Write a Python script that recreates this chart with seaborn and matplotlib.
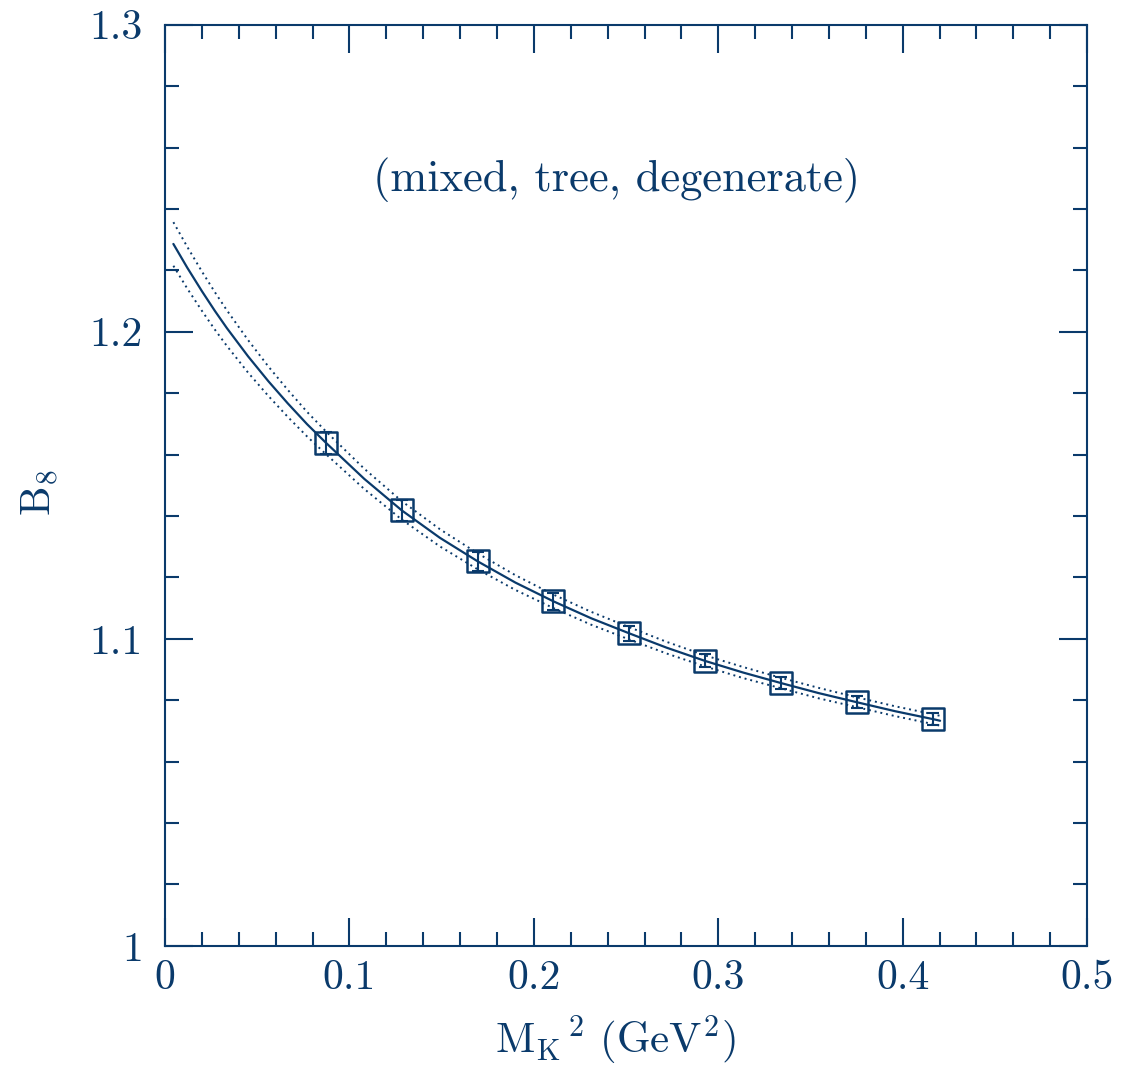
import numpy as np
import pandas as pd
import matplotlib
matplotlib.use("Agg")
import matplotlib.pyplot as plt
import seaborn as sns

# data points (M_K^2, B_8, error)
mk2 = [0.0873, 0.1284, 0.1696, 0.2106, 0.2516, 0.2928, 0.3339, 0.3754, 0.4167]
b8 = [1.1638, 1.1418, 1.1252, 1.1122, 1.1018, 1.0928, 1.0856, 1.0793, 1.0738]
b8_err = [0.0037, 0.0033, 0.0030, 0.0028, 0.0024, 0.0021, 0.0021, 0.0020, 0.0020]

# fit curve
fit_x = [0.0045, 0.012, 0.020, 0.027, 0.0335, 0.045, 0.056, 0.0665, 0.077, 0.0873,
         0.108, 0.1284, 0.149, 0.1696, 0.190, 0.2106, 0.231, 0.2516, 0.272, 0.2928,
         0.3135, 0.3339, 0.3545, 0.3754, 0.396, 0.4167, 0.4203]
fit_y = [1.2286, 1.2209, 1.2132, 1.2068, 1.2012, 1.1920, 1.1839, 1.1767, 1.1699, 1.1638,
         1.1521, 1.1418, 1.1329, 1.1252, 1.1183, 1.1122, 1.1067, 1.1018, 1.0971, 1.0928,
         1.0890, 1.0856, 1.0823, 1.0793, 1.0764, 1.0738, 1.0733]
fit_hw = [0.0071, 0.0068, 0.0064, 0.0061, 0.0058, 0.0053, 0.0048, 0.0044, 0.0040, 0.0037,
          0.0033, 0.0030, 0.0028, 0.0026, 0.0024, 0.0022, 0.0021, 0.0020, 0.0019, 0.0018,
          0.0018, 0.0017, 0.0017, 0.0016, 0.0016, 0.0016, 0.0016]

xticks = [0, 0.1, 0.2, 0.3, 0.4, 0.5]
xticklabels = ['0', '0.1', '0.2', '0.3', '0.4', '0.5']
yticks = [1.0, 1.1, 1.2, 1.3]
yticklabels = ['1', '1.1', '1.2', '1.3']

col = '#0a3a6b'

fit = pd.DataFrame({'x': fit_x, 'y': fit_y, 'hw': fit_hw})
fit['up'] = fit['y'] + fit['hw']
fit['lo'] = fit['y'] - fit['hw']
pts = pd.DataFrame({'x': mk2, 'y': b8, 'err': b8_err})

sns.set_theme(style='ticks')
plt.rcParams['font.family'] = ['cmr10', 'DejaVu Serif']
plt.rcParams['mathtext.fontset'] = 'cm'
plt.rcParams['axes.formatter.use_mathtext'] = True

fig = plt.figure(figsize=(11.23, 10.76), dpi=100)
ax = fig.add_axes([0.147, 0.121, 0.821, 0.856])

sns.lineplot(data=fit, x='x', y='y', ax=ax, color=col, lw=1.6, sort=False)
sns.lineplot(data=fit, x='x', y='up', ax=ax, color=col, lw=1.4,
             linestyle=(0, (1, 2)), sort=False)
sns.lineplot(data=fit, x='x', y='lo', ax=ax, color=col, lw=1.4,
             linestyle=(0, (1, 2)), sort=False)

ax.errorbar(pts['x'], pts['y'], yerr=pts['err'], fmt='none', ecolor=col,
            elinewidth=1.5, capsize=4, capthick=1.5)
sns.scatterplot(data=pts, x='x', y='y', ax=ax, marker='s', s=250,
                facecolor='none', edgecolor=col, linewidth=1.8, zorder=5)

ax.set_xlim(0, 0.5)
ax.set_ylim(1.0, 1.3)
ax.set_xticks(xticks)
ax.set_xticklabels(xticklabels)
ax.set_yticks(yticks)
ax.set_yticklabels(yticklabels)
ax.set_xticks(np.arange(0, 0.5001, 0.02), minor=True)
ax.set_yticks(np.arange(1.0, 1.3001, 0.02), minor=True)
ax.tick_params(which='both', direction='in', top=True, right=True,
               color=col, labelcolor=col, width=1.5)
ax.tick_params(which='major', length=20, labelsize=30)
ax.tick_params(which='minor', length=10)
ax.tick_params(axis='x', pad=10)
ax.tick_params(axis='y', pad=16)
for s in ax.spines.values():
    s.set_color(col)
    s.set_linewidth(1.5)

ax.set_xlabel(r'$\mathrm{M_K}^{\,2}\ \mathrm{(GeV^2)}$', fontsize=31, color=col)
ax.set_ylabel(r'$\mathrm{B_8}$', fontsize=30, color=col)
ax.xaxis.set_label_coords(0.488, -0.074)
ax.yaxis.set_label_coords(-0.113, 0.492)
ax.text(0.2446, 1.2492, '(mixed, tree, degenerate)', fontsize=32, color=col,
        ha='center', va='center')

fig.savefig('out.png', dpi=100)
